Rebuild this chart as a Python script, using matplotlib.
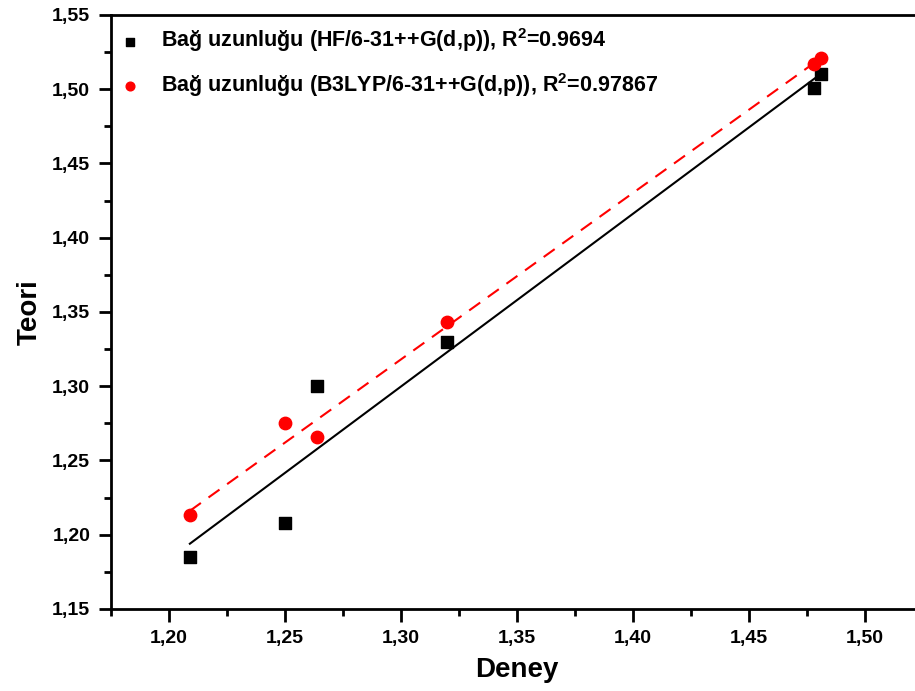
import matplotlib
matplotlib.use("Agg")
import matplotlib.pyplot as plt
import numpy as np
from matplotlib.ticker import MultipleLocator, FuncFormatter

plt.rcParams['font.family'] = ['Liberation Sans', 'DejaVu Sans']
plt.rcParams['font.weight'] = 'bold'
plt.rcParams['mathtext.fontset'] = 'custom'
plt.rcParams['mathtext.rm'] = 'Liberation Sans:bold'
plt.rcParams['mathtext.bf'] = 'Liberation Sans:bold'

# deney (experimental) bond lengths
deney = [1.209, 1.250, 1.264, 1.320, 1.478, 1.481]
# theory values
hf = [1.185, 1.208, 1.300, 1.330, 1.501, 1.510]
b3lyp = [1.213, 1.275, 1.266, 1.343, 1.517, 1.521]

hf_label = r"Bağ uzunluğu (HF/6-31++G(d,p)), R$^{\mathbf{2}}$=0.9694"
b3lyp_label = r"Bağ uzunluğu (B3LYP/6-31++G(d,p)), R$^{\mathbf{2}}$=0.97867"

fig = plt.figure(figsize=(9.15, 6.91), dpi=100)
ax = fig.add_axes([111/915, 82/691, (923-111)/915, (609-15)/691])

x = np.array(deney)
xx = np.array([x.min(), x.max()])

#linear fits
p_hf = np.polyfit(x, hf, 1)
p_b3 = np.polyfit(x, b3lyp, 1)
ax.plot(xx, np.polyval(p_hf, xx), color="black", lw=1.5, zorder=2)
ax.plot(xx, np.polyval(p_b3, xx), color="red", lw=1.5, ls=(0, (6.5, 4.5)), zorder=2)

ax.scatter(deney, hf, marker="s", s=70, color="black", label=hf_label, zorder=3)
ax.scatter(deney, b3lyp, marker="o", s=80, color="red", label=b3lyp_label, zorder=3)

ax.set_xlim(1.175, 1.525)
ax.set_ylim(1.15, 1.55)
ax.xaxis.set_major_locator(MultipleLocator(0.05))
ax.xaxis.set_minor_locator(MultipleLocator(0.025))
ax.yaxis.set_major_locator(MultipleLocator(0.05))
ax.yaxis.set_minor_locator(MultipleLocator(0.025))
fmt = FuncFormatter(lambda v, p: "{:.2f}".format(v).replace(".", ","))
ax.xaxis.set_major_formatter(fmt)
ax.yaxis.set_major_formatter(fmt)

ax.tick_params(which="major", direction="out", length=9, width=2, labelsize=14, pad=6)
ax.tick_params(which="minor", direction="out", length=5, width=2)
ax.tick_params(top=False, right=False)
for s in ax.spines.values():
    s.set_linewidth(2)

ax.set_xlabel("Deney", fontsize=20, fontweight="bold", labelpad=7)
ax.set_ylabel("Teori", fontsize=20, fontweight="bold", labelpad=7)

leg = ax.legend(loc="upper left", frameon=False, fontsize=15.5, handletextpad=0.9,
                handlelength=1.0, borderaxespad=0.0, labelspacing=0.75,
                markerscale=0.7, bbox_to_anchor=(0.0, 0.995))

fig.savefig("out.png", dpi=100)
